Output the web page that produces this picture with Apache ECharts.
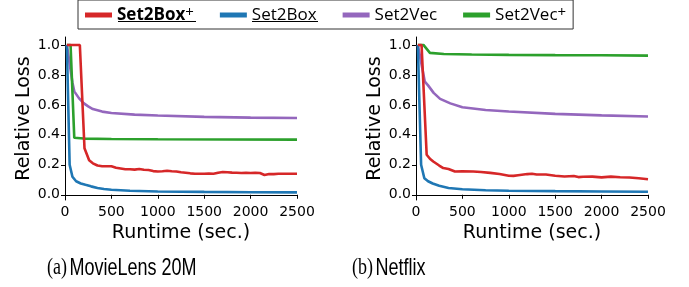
<!DOCTYPE html>
<html>
<head>
<meta charset="utf-8">
<script src="https://cdn.jsdelivr.net/npm/echarts@6/dist/echarts.min.js"></script>
<style>
  html, body { margin: 0; padding: 0; background: #fff; }
  #chart { width: 689px; height: 287px; }
</style>
</head>
<body>
<div id="chart"></div>
<script>
// series names, legend order
var names = ['Set2Box+', 'Set2Box', 'Set2Vec', 'Set2Vec+'];
var colors = ['#d62728', '#1f77b4', '#9467bd', '#2ca02c'];
var xTicks = [0, 500, 1000, 1500, 2000, 2500];
var yTicks = [0, 0.2, 0.4, 0.6, 0.8, 1.0];

// (a) MovieLens 20M : [runtime, relative loss]
var mlBoxPlus = [[20,1.0],[160,1.0],[210,0.31],[260,0.23],[300,0.21],[350,0.195],[400,0.19],[450,0.19],[500,0.19],
  [550,0.18],[600,0.175],[650,0.17],[700,0.17],[750,0.168],[800,0.172],[850,0.167],[900,0.165],[950,0.158],
  [1000,0.155],[1050,0.157],[1100,0.16],[1150,0.157],[1200,0.155],[1250,0.15],[1300,0.147],[1350,0.143],
  [1400,0.14],[1450,0.14],[1500,0.14],[1550,0.142],[1600,0.14],[1650,0.147],[1700,0.152],[1750,0.15],
  [1800,0.148],[1850,0.147],[1900,0.145],[1950,0.146],[2000,0.145],[2050,0.147],[2100,0.145],[2150,0.132],
  [2200,0.138],[2250,0.138],[2300,0.14],[2350,0.14],[2400,0.14],[2450,0.14],[2500,0.14]];
var mlBox = [[20,1.0],[50,0.2],[80,0.12],[120,0.09],[170,0.075],[220,0.066],[280,0.056],[350,0.045],[420,0.038],
  [500,0.033],[700,0.027],[1000,0.022],[1500,0.019],[2000,0.017],[2500,0.016]];
var mlVec = [[20,1.0],[80,0.75],[100,0.69],[150,0.645],[200,0.612],[250,0.59],[300,0.572],[400,0.555],[500,0.546],
  [750,0.535],[1000,0.529],[1500,0.52],[2000,0.515],[2500,0.512]];
var mlVecPlus = [[20,1.0],[60,1.0],[100,0.38],[200,0.375],[500,0.372],[1000,0.37],[2500,0.368]];

// (b) Netflix
var nfBoxPlus = [[20,1.0],[60,1.0],[115,0.267],[150,0.24],[186,0.222],[250,0.195],[294,0.178],[350,0.172],
  [420,0.155],[500,0.157],[617,0.155],[700,0.152],[800,0.146],[900,0.138],[1000,0.127],[1050,0.126],[1100,0.13],
  [1200,0.138],[1250,0.14],[1300,0.135],[1400,0.135],[1500,0.127],[1600,0.122],[1700,0.125],[1750,0.118],
  [1800,0.12],[1900,0.121],[2000,0.116],[2100,0.121],[2200,0.117],[2300,0.115],[2400,0.11],[2500,0.104]];
var nfBox = [[20,1.0],[55,0.2],[90,0.11],[130,0.09],[180,0.075],[250,0.06],[350,0.045],[500,0.037],[750,0.03],
  [1000,0.027],[1500,0.024],[2000,0.022],[2500,0.02]];
var nfVec = [[20,1.0],[95,0.755],[130,0.73],[190,0.68],[260,0.64],[370,0.61],[500,0.584],[750,0.566],
  [1000,0.556],[1500,0.54],[2000,0.53],[2500,0.522]];
var nfVecPlus = [[20,1.0],[80,1.0],[150,0.947],[300,0.94],[600,0.936],[1000,0.934],[1500,0.932],[2000,0.931],[2500,0.929]];

var panels = [
  { left: 65, data: [mlBoxPlus, mlBox, mlVec, mlVecPlus] },
  { left: 416, data: [nfBoxPlus, nfBox, nfVec, nfVecPlus] }
];

var axisFont = 'DejaVu Sans';

var chart = echarts.init(document.getElementById('chart'), null, { renderer: 'canvas' });

var grids = [], xAxes = [], yAxes = [], series = [];
panels.forEach(function (p, i) {
  grids.push({ left: p.left, width: 232, top: 37, height: 163 });
  xAxes.push({
    type: 'value', gridIndex: i, min: 0, max: 2500, interval: 500,
    name: 'Runtime (sec.)', nameLocation: 'middle', nameGap: 19,
    nameTextStyle: { fontFamily: axisFont, fontSize: 19, color: '#000' },
    axisLine: { lineStyle: { color: '#000', width: 1 } },
    axisTick: { length: 4, customValues: xTicks, lineStyle: { color: '#000' } },
    axisLabel: { fontFamily: axisFont, fontSize: 14, color: '#000', margin: 5,
      customValues: xTicks, formatter: function (v) { return String(v); } },
    splitLine: { show: false }
  });
  yAxes.push({
    type: 'value', gridIndex: i, min: -0.035, max: 1.053,
    name: 'Relative Loss', nameLocation: 'middle', nameGap: 29,
    nameTextStyle: { fontFamily: axisFont, fontSize: 19, color: '#000' },
    axisLine: { show: true, lineStyle: { color: '#000', width: 1 } },
    axisTick: { show: true, length: 4, customValues: yTicks, lineStyle: { color: '#000' } },
    axisLabel: { fontFamily: axisFont, fontSize: 14, color: '#000', margin: 5,
      customValues: yTicks, formatter: function (v) { return v.toFixed(1); } },
    splitLine: { show: false }
  });
  // draw order: purple, green, blue, red on top
  [2, 3, 1, 0].forEach(function (k) {
    series.push({
      name: names[k], type: 'line', xAxisIndex: i, yAxisIndex: i,
      data: p.data[k], showSymbol: false, symbol: 'none',
      lineStyle: { color: colors[k], width: 2.6 }, itemStyle: { color: colors[k] }
    });
  });
});

var option = {
  animation: false,
  backgroundColor: '#fff',
  color: colors,
  grid: grids,
  xAxis: xAxes,
  yAxis: yAxes,
  legend: {
    data: names,
    left: 78, top: 0,
    padding: [5, 7, 5, 7],
    itemGap: 26,
    itemWidth: 27, itemHeight: 5,
    icon: 'rect',
    borderColor: '#333', borderWidth: 1, borderRadius: 0,
    textStyle: {
      fontFamily: 'Open Sans', fontSize: 17, color: '#000',
      rich: {
        b: { fontFamily: 'Open Sans', fontSize: 17, fontWeight: 'bold', color: '#000', lineHeight: 20 },
        n: { fontFamily: 'Open Sans', fontSize: 17, color: '#000', lineHeight: 20 },
        s: { fontFamily: 'Open Sans', fontSize: 15, color: '#000', verticalAlign: 'top', lineHeight: 13, padding: [0, 0, 4, 0] },
        bs: { fontFamily: 'Open Sans', fontSize: 15, color: '#000', verticalAlign: 'top', lineHeight: 13, padding: [0, 0, 4, 0] }
      }
    },
    formatter: function (name) {
      if (name === 'Set2Box+') return '{b|Set2Box}{bs|+}';
      if (name === 'Set2Vec+') return '{n|Set2Vec}{s|+}';
      return '{n|' + name + '}';
    }
  },
  graphic: [
    { type: 'line', shape: { x1: 118, y1: 21.5, x2: 196, y2: 21.5 }, style: { stroke: '#000', lineWidth: 1 } },
    { type: 'line', shape: { x1: 252, y1: 21.5, x2: 318, y2: 21.5 }, style: { stroke: '#000', lineWidth: 1 } },
    {
      type: 'text', x: 47, y: 268, scaleX: 0.75,
      style: {
        text: '{p|(a)} {t|MovieLens 20M}', verticalAlign: 'middle',
        rich: {
          p: { fontFamily: 'Liberation Serif', fontSize: 24, fill: '#000' },
          t: { fontFamily: 'Liberation Sans', fontSize: 24, fill: '#000' }
        }
      }
    },
    {
      type: 'text', x: 352, y: 268, scaleX: 0.75,
      style: {
        text: '{p|(b)} {t|Netflix}', verticalAlign: 'middle',
        rich: {
          p: { fontFamily: 'Liberation Serif', fontSize: 24, fill: '#000' },
          t: { fontFamily: 'Liberation Sans', fontSize: 24, fill: '#000' }
        }
      }
    }
  ],
  series: series
};

if (option && typeof option === 'object') {
  chart.setOption(option);
}

window.addEventListener('resize', chart.resize);
</script>
</body>
</html>
